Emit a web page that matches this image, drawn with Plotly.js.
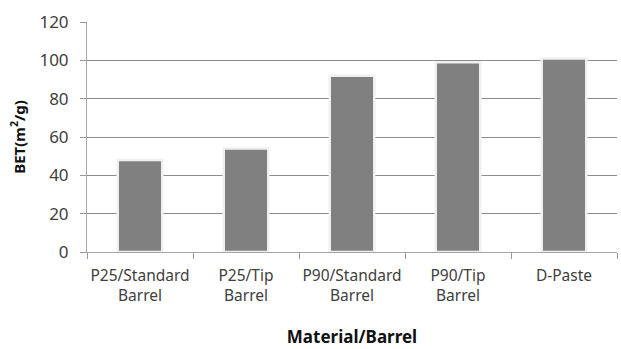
<!DOCTYPE html>
<html>
<head>
<meta charset="utf-8">
<script src="https://cdn.plot.ly/plotly-3.0.1.min.js"></script>
<style>html,body{margin:0;padding:0;background:#fff;}#chart{width:621px;height:349px;}</style>
</head>
<body>
<div id="chart"></div>
<script>
// BET surface area per material / barrel combination
const categories = [
  "P25/Standard<br>Barrel",
  "P25/Tip<br>Barrel",
  "P90/Standard<br>Barrel",
  "P90/Tip<br>Barrel",
  "D-Paste"
];
const betValues = [48, 54, 92, 99, 101];
const yTicks = [0, 20, 40, 60, 80, 100, 120];

const font = "Noto Sans, Open Sans, sans-serif";

const trace = {
  type: "bar",
  x: categories,
  y: betValues,
  marker: { color: "#808080", line: { color: "#f0f0f0", width: 2.5 } },
  hoverinfo: "none"
};

const layout = {
  width: 621,
  height: 349,
  margin: { l: 87, r: 4, t: 22, b: 97 },
  paper_bgcolor: "#fff",
  plot_bgcolor: "#fff",
  bargap: 0.58,
  showlegend: false,
  font: { family: font, color: "#404040", size: 15 },
  xaxis: {
    type: "category",
    tickson: "boundaries",
    ticks: "outside",
    ticklen: 6,
    tickcolor: "#999",
    tickangle: 0,
    showline: true,
    linecolor: "#a6a6a6",
    linewidth: 1,
    showgrid: false,
    tickfont: { family: font, size: 15.5, color: "#404040" },
    ticklabelstandoff: 9,
    title: {
      text: "Material/Barrel",
      font: { family: font, size: 17, color: "#111", weight: "bold" },
      standoff: 26
    }
  },
  yaxis: {
    range: [0, 120],
    tickvals: yTicks,
    ticks: "outside",
    ticklen: 6,
    tickcolor: "#999",
    showline: true,
    linecolor: "#a6a6a6",
    linewidth: 1,
    showgrid: true,
    gridcolor: "#8c8c8c",
    gridwidth: 1,
    zeroline: false,
    tickfont: { family: font, size: 17, color: "#404040" },
    ticklabelstandoff: 8,
    title: {
      text: "BET(m<sup>2</sup>/g)",
      font: { family: font, size: 15, color: "#111", weight: "bold" },
      standoff: 10
    }
  }
};

Plotly.newPlot("chart", [trace], layout, { displayModeBar: false, staticPlot: true });
</script>
</body>
</html>
